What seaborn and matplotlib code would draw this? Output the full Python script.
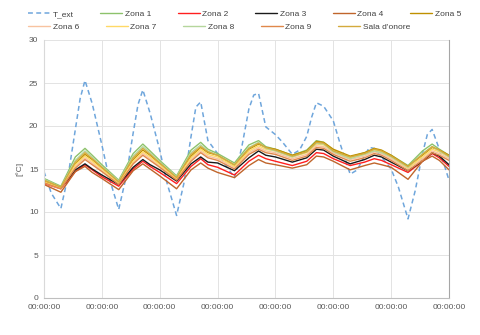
import pandas as pd
import matplotlib
matplotlib.use("Agg")
import matplotlib.pyplot as plt
import seaborn as sns

# hourly positions (hours from the first midnight)
ext_hours = [0, 3, 7, 10, 13, 15, 17, 20, 24, 27, 31, 34, 37, 39, 41, 44,
             48, 51, 55, 58, 61, 63, 65, 68, 72, 75, 79, 82, 85, 87, 89, 92,
             96, 99, 103, 106, 109, 111, 113, 116, 120, 123, 127, 130, 133, 135, 137, 140,
             144, 147, 151, 154, 157, 159, 161, 164, 168]
zone_hours = [0, 7, 13, 17, 20, 24, 31, 37, 41, 44, 48, 55, 61, 65, 68,
              72, 79, 85, 89, 92, 96, 103, 109, 113, 116, 120, 127, 133, 137, 140,
              144, 151, 157, 161, 164, 168]

t_ext = [14.7, 12.2, 10.4, 14.2, 19.6, 23.2, 25.3, 22.6,
         17.8, 14.0, 10.3, 14.0, 19.2, 22.5, 24.2, 21.5,
         17.2, 13.4, 9.6, 13.3, 18.8, 22.2, 22.8, 18.3,
         16.8, 15.6, 14.0, 17.5, 22.0, 23.6, 23.8, 19.9,
         19.0, 18.1, 16.7, 17.2, 18.8, 21.0, 22.7, 22.3,
         20.6, 17.8, 14.4, 14.9, 16.6, 17.5, 17.4, 16.4,
         15.0, 12.9, 9.2, 12.5, 16.8, 19.0, 19.6, 17.3,
         13.7]

zona_1 = [13.9, 13.0, 16.4, 17.4, 16.6, 15.5, 13.7, 16.8, 17.9, 17.1,
          16.0, 14.2, 17.2, 18.1, 17.3, 16.8, 15.7, 17.8, 18.3, 17.6,
          17.3, 16.6, 17.2, 18.3, 18.1, 17.2, 16.4, 16.9, 17.3, 17.1,
          16.6, 15.4, 17.1, 17.9, 17.3, 16.6]
zona_2 = [13.3, 12.7, 14.7, 15.5, 14.9, 14.1, 13.0, 15.0, 15.9, 15.3,
          14.6, 13.3, 15.3, 16.2, 15.5, 15.2, 14.3, 15.9, 16.6, 16.2,
          15.9, 15.4, 15.9, 16.9, 16.8, 16.2, 15.4, 15.8, 16.2, 16.0,
          15.5, 14.6, 15.9, 16.8, 16.3, 15.3]
zona_3 = [13.5, 12.8, 14.9, 15.6, 15.0, 14.3, 13.2, 15.2, 16.1, 15.5,
          14.9, 13.6, 15.6, 16.4, 15.8, 15.7, 14.8, 16.3, 17.1, 16.6,
          16.4, 15.8, 16.3, 17.3, 17.2, 16.5, 15.6, 16.1, 16.6, 16.4,
          15.8, 14.8, 15.9, 16.9, 16.5, 15.5]
zona_4 = [13.2, 12.3, 14.7, 15.3, 14.6, 13.9, 12.6, 14.8, 15.6, 15.0,
          14.2, 12.7, 14.9, 15.7, 15.1, 14.6, 14.0, 15.4, 16.1, 15.7,
          15.5, 15.1, 15.5, 16.5, 16.4, 15.9, 14.9, 15.4, 15.7, 15.5,
          15.2, 13.8, 15.9, 16.5, 16.0, 14.9]
zona_5 = [13.6, 12.8, 15.6, 16.7, 16.1, 15.1, 13.4, 16.1, 17.2, 16.6,
          15.6, 13.9, 16.5, 17.5, 16.9, 16.6, 15.4, 17.3, 17.9, 17.5,
          17.3, 16.6, 17.1, 18.2, 18.1, 17.3, 16.5, 16.9, 17.4, 17.2,
          16.6, 15.3, 16.6, 17.5, 17.2, 16.6]
zona_6 = [13.4, 12.7, 15.3, 16.3, 15.7, 14.8, 13.3, 15.7, 16.8, 16.2,
          15.3, 13.8, 16.1, 17.1, 16.5, 16.2, 15.2, 16.9, 17.5, 17.1,
          16.9, 16.2, 16.7, 17.7, 17.6, 16.9, 16.1, 16.5, 17.0, 16.8,
          16.2, 15.0, 16.2, 17.1, 16.8, 16.2]
zona_7 = [13.5, 12.8, 15.5, 16.5, 15.9, 15.0, 13.4, 15.9, 17.0, 16.4,
          15.5, 13.9, 16.3, 17.3, 16.7, 16.4, 15.3, 17.1, 17.7, 17.3,
          17.1, 16.4, 16.9, 17.9, 17.8, 17.1, 16.3, 16.7, 17.2, 17.0,
          16.4, 15.1, 16.4, 17.3, 17.0, 16.4]
zona_8 = [13.8, 12.9, 16.0, 17.1, 16.4, 15.3, 13.6, 16.5, 17.6, 16.9,
          15.8, 14.1, 16.9, 17.8, 17.1, 16.6, 15.5, 17.5, 18.1, 17.4,
          17.1, 16.4, 17.0, 18.0, 17.9, 17.0, 16.2, 16.7, 17.1, 16.9,
          16.4, 15.2, 16.8, 17.6, 17.1, 16.4]
zona_9 = [13.4, 12.7, 15.1, 16.1, 15.5, 14.7, 13.2, 15.6, 16.6, 16.0,
          15.2, 13.7, 15.9, 16.9, 16.3, 16.0, 15.0, 16.7, 17.3, 16.9,
          16.7, 16.0, 16.5, 17.5, 17.4, 16.7, 15.9, 16.3, 16.8, 16.6,
          16.0, 14.8, 16.0, 16.9, 16.6, 16.0]
sala_onore = [13.7, 12.9, 15.8, 16.9, 16.2, 15.2, 13.5, 16.3, 17.4, 16.7,
              15.7, 14.0, 16.7, 17.6, 17.0, 16.6, 15.5, 17.4, 18.0, 17.5,
              17.2, 16.5, 17.0, 18.1, 18.0, 17.1, 16.4, 16.8, 17.3, 17.1,
              16.5, 15.3, 16.7, 17.6, 17.2, 16.5]

zones = {
    "Zona 1": (zona_1, "#8DC26B"),
    "Zona 2": (zona_2, "#FF1F1F"),
    "Zona 3": (zona_3, "#1A1A1A"),
    "Zona 4": (zona_4, "#C0652B"),
    "Zona 5": (zona_5, "#BF9000"),
    "Zona 6": (zona_6, "#F8C3A0"),
    "Zona 7": (zona_7, "#FFD966"),
    "Zona 8": (zona_8, "#B5D69C"),
    "Zona 9": (zona_9, "#E0884A"),
    "Sala d'onore": (sala_onore, "#D4AA3C"),
}

tick_hours = [0, 24, 48, 72, 96, 120, 144, 168]
tick_labels = ["00:00:00"] * 8

sns.set_theme(style="white")
plt.rcParams["font.family"] = ["Liberation Sans", "DejaVu Sans"]

fig = plt.figure(figsize=(4.8, 3.35), dpi=100)
ax = fig.add_axes([44 / 480, 1 - 298 / 335, 405 / 480, 258 / 335])

sns.lineplot(x=ext_hours, y=t_ext, ax=ax, color="#6FA6DC", linewidth=1.1,
             dashes=False, label="T_ext")
ax.lines[-1].set_dashes((3.2, 2.2))
for name, (vals, col) in zones.items():
    sns.lineplot(x=zone_hours, y=vals, ax=ax, color=col, linewidth=1.0, label=name)

ax.set_xlim(0, 168)
ax.set_ylim(0, 30)
ax.set_yticks(range(0, 31, 5))
ax.set_xticks(tick_hours)
ax.set_xticklabels(tick_labels)
ax.tick_params(axis="both", labelsize=6, colors="#595959", length=0, pad=4)
ax.grid(True, color="#E3E3E3", linewidth=0.7)
ax.set_axisbelow(True)
ax.spines["top"].set_visible(False)
ax.spines["left"].set_color("#D9D9D9")
ax.spines["bottom"].set_color("#BFBFBF")
ax.spines["right"].set_color("#A6A6A6")
for s in ["left", "bottom", "right"]:
    ax.spines[s].set_linewidth(0.8)
ax.set_xlabel("")
ax.set_ylabel("[°C]", fontsize=6, color="#595959", labelpad=4)

handles, labels = ax.get_legend_handles_labels()
ax.get_legend().remove()
hmap = dict(zip(labels, handles))
row1 = ["T_ext", "Zona 1", "Zona 2", "Zona 3", "Zona 4", "Zona 5"]
row2 = ["Zona 6", "Zona 7", "Zona 8", "Zona 9", "Sala d'onore"]
for i, row in enumerate([row1, row2]):
    fig.legend([hmap[r] for r in row], row, loc="upper left",
               bbox_to_anchor=(28 / 480, 1 - (10 + 13 * i) / 335),
               ncol=len(row), frameon=False, fontsize=6, labelcolor="#404040",
               handlelength=2.65, handletextpad=0.3, columnspacing=3.2,
               borderpad=0, borderaxespad=0)

fig.savefig("out.png", dpi=100)
